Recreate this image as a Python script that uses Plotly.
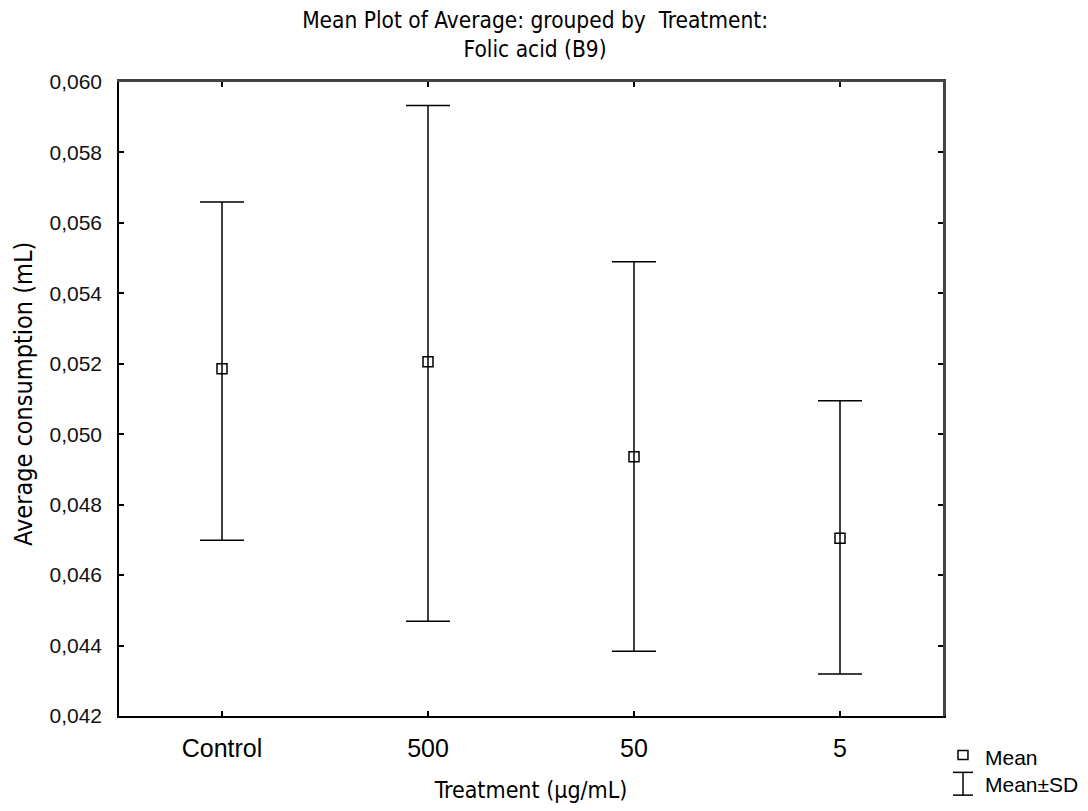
import plotly.graph_objects as go

categories = ["Control", "500", "50", "5"]
means = [0.05186, 0.05206, 0.04936, 0.04705]
upper = [0.05659, 0.05933, 0.05490, 0.05095]   # Mean + SD
lower = [0.04699, 0.04469, 0.04384, 0.04319]   # Mean - SD
y_ticks = [0.042, 0.044, 0.046, 0.048, 0.050, 0.052, 0.054, 0.056, 0.058, 0.060]

err_plus = [u - m for u, m in zip(upper, means)]
err_minus = [m - l for m, l in zip(means, lower)]

NARROW = "Liberation Sans Narrow, DejaVu Sans Condensed, Arial Narrow, Liberation Sans, Arial, sans-serif"
SANS = "Liberation Sans, Arial, sans-serif"

fig = go.Figure()
fig.add_trace(go.Scatter(
    x=categories, y=means, mode="markers", name="Mean",
    marker=dict(symbol="square-open", size=10, color="black", line=dict(width=1.5, color="black")),
    error_y=dict(type="data", symmetric=False, array=err_plus, arrayminus=err_minus,
                 color="black", thickness=1.5, width=22),
    showlegend=False,
))

fig.update_layout(
    width=1088, height=811,
    margin=dict(l=119, r=145, t=82, b=88),
    paper_bgcolor="white", plot_bgcolor="white",
    separators=",.",
    title=dict(text="Mean Plot of Average: grouped by  Treatment:<br>Folic acid (B9)",
               x=0.505, xref="paper", xanchor="center", y=0.966, yref="container", yanchor="middle",
               font=dict(family=NARROW, size=22.5, color="black")),
    xaxis=dict(range=[-0.5, 3.5], showgrid=False, zeroline=False,
               showline=True, linecolor="black", linewidth=1.5, mirror=False,
               ticks="inside", ticklen=5, tickwidth=1.5, tickcolor="black",
               tickfont=dict(family=SANS, size=25, color="black"),
               ticklabelstandoff=9,
               title=dict(text="Treatment (µg/mL)", font=dict(family=NARROW, size=23, color="black"), standoff=21)),
    yaxis=dict(range=[0.042, 0.060], showgrid=False, zeroline=False,
               showline=True, linecolor="black", linewidth=1.5, mirror=False,
               tickvals=y_ticks, tickformat=".3f",
               ticks="inside", ticklen=5, tickwidth=1.5, tickcolor="black",
               tickfont=dict(family=SANS, size=21, color="#111"),
               ticklabelstandoff=11),
)

# y-axis title placed explicitly (further left than plotly's automatic position)
fig.add_annotation(text="Average consumption (mL)", xref="paper", yref="paper",
                   x=(24 - 119) / 824, y=0.508, xanchor="center", yanchor="middle",
                   textangle=-90, showarrow=False,
                   font=dict(family=NARROW, size=25, color="black"))

# mirrored ticks on top / right via overlay axes
fig.update_layout(
    xaxis2=dict(overlaying="x", side="top", range=[-0.5, 3.5],
                tickvals=[0, 1, 2, 3], showticklabels=False, ticks="inside", ticklen=5,
                tickwidth=1.5, tickcolor="black", showgrid=False, zeroline=False,
                showline=True, linecolor="#444", linewidth=2.5),
    yaxis2=dict(overlaying="y", side="right", range=[0.042, 0.060],
                tickvals=y_ticks, showticklabels=False, ticks="inside", ticklen=5,
                tickwidth=1.5, tickcolor="black", showgrid=False, zeroline=False,
                showline=True, linecolor="#444", linewidth=2.5),
)
fig.add_trace(go.Scatter(x=[None], y=[None], xaxis="x2", yaxis="y2", showlegend=False, hoverinfo="skip"))

# legend (drawn as annotations + small symbol shapes)
fig.add_shape(type="rect", xref="paper", yref="paper", x0=1.0182, x1=1.0303, y0=-0.0686, y1=-0.0546,
              line=dict(color="black", width=1.5))
fig.add_shape(type="line", xref="paper", yref="paper", x0=1.0243, x1=1.0243, y0=-0.1248, y1=-0.0889,
              line=dict(color="black", width=1.5))
fig.add_shape(type="line", xref="paper", yref="paper", x0=1.0121, x1=1.0364, y0=-0.0889, y1=-0.0889,
              line=dict(color="black", width=1.5))
fig.add_shape(type="line", xref="paper", yref="paper", x0=1.0121, x1=1.0364, y0=-0.1248, y1=-0.1248,
              line=dict(color="black", width=1.5))
fig.add_annotation(text="Mean", xref="paper", yref="paper", x=1.0485, y=-0.0655, xanchor="left",
                   yanchor="middle", showarrow=False, font=dict(family=SANS, size=21, color="black"))
fig.add_annotation(text="Mean±SD", xref="paper", yref="paper", x=1.0485, y=-0.1076, xanchor="left",
                   yanchor="middle", showarrow=False, font=dict(family=SANS, size=21, color="black"))

fig.write_html(
    "out.html",
    config={"displayModeBar": False},
    post_script="document.body.style.margin='0';document.body.style.padding='0';"
                "document.body.style.overflow='hidden';document.documentElement.style.overflow='hidden';",
)
